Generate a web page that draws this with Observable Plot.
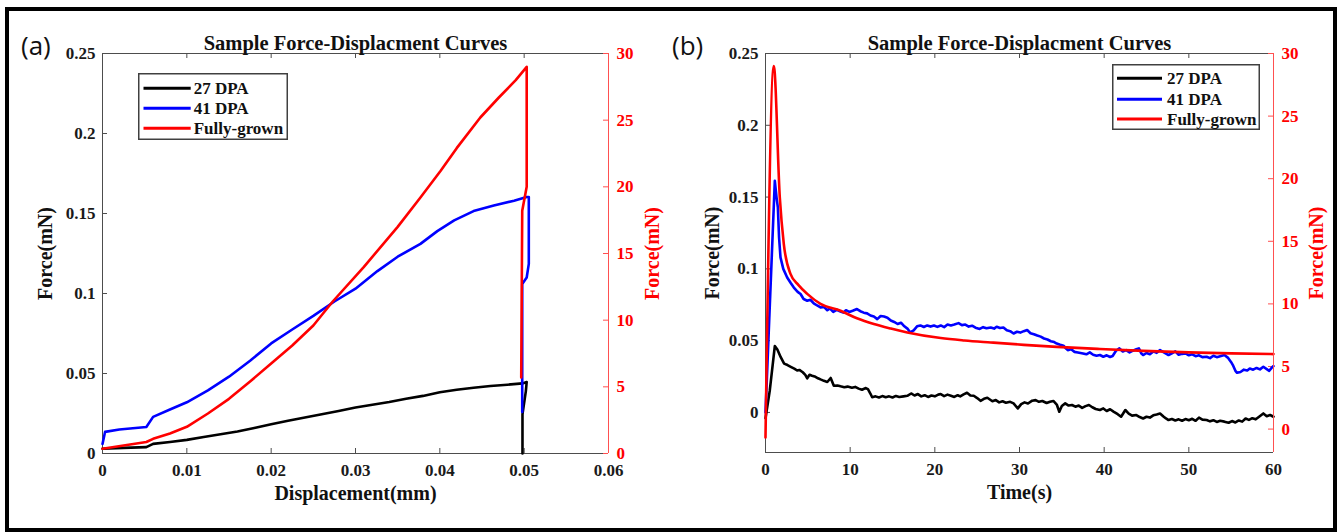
<!DOCTYPE html>
<html>
<head>
<meta charset="utf-8">
<script src="https://cdn.jsdelivr.net/npm/d3@7"></script>
<script src="https://cdn.jsdelivr.net/npm/@observablehq/plot@0.6"></script>
<style>
  html,body{margin:0;padding:0;background:#fff;}
  #fig{position:relative;width:1342px;height:532px;overflow:hidden;background:#fff;}
  .frame{position:absolute;left:5px;top:7px;width:1332px;height:525px;box-sizing:border-box;border:4px solid #000;pointer-events:none;}
  #fig svg text{
    font-family:"Liberation Serif","Times New Roman",Times,serif !important;
    font-weight:bold !important;
    font-variant:normal !important;
  }
  .tag{position:absolute;font-family:"Open Sans","Liberation Sans",sans-serif;font-size:26px;line-height:1;color:#111;}
</style>
</head>
<body>
<div id="fig"></div>
<script>
// ---------- shared ----------
const seriesNames = ["27 DPA", "41 DPA", "Fully-grown"];
const seriesColors = ["#000000", "#0000ff", "#ff0000"];
const chartTitle = "Sample Force-Displacment Curves";
const yLabel = "Force(mN)";
const panelTags = ["(a)", "(b)"];

// ---------- panel (a): force vs displacement ----------
const aXDomain = [0, 0.06];
const aXTicks = [0, 0.01, 0.02, 0.03, 0.04, 0.05, 0.06];
const aXLabels = ["0", "0.01", "0.02", "0.03", "0.04", "0.05", "0.06"];
const aLeftDomain = [0, 0.25];
const aLeftTicks = [0, 0.05, 0.1, 0.15, 0.2, 0.25];
const aLeftLabels = ["0", "0.05", "0.1", "0.15", "0.2", "0.25"];
const aRightDomain = [0, 30];
const aRightTicks = [0, 5, 10, 15, 20, 25, 30];
const aXLabel = "Displacement(mm)";

// [displacement (mm), force (mN, left axis)]
const a27 = [[0,0.003],[0.0025,0.0035],[0.0052,0.004],[0.006,0.006],[0.008,0.0072],[0.01,0.0085],[0.012,0.0103],[0.014,0.012],[0.016,0.0138],[0.018,0.016],[0.02,0.0183],[0.022,0.0205],[0.024,0.0225],[0.026,0.0245],[0.028,0.0266],[0.03,0.0288],[0.032,0.0305],[0.034,0.0322],[0.036,0.0342],[0.038,0.036],[0.04,0.0383],[0.042,0.0398],[0.044,0.0411],[0.046,0.0422],[0.048,0.043],[0.0498,0.0438],[0.0503,0.0447],[0.0502,0.039],[0.0498,0.0245],[0.0498,0]];
const a41 = [[0,0.006],[0.0003,0.0135],[0.002,0.015],[0.0052,0.0166],[0.006,0.0229],[0.008,0.0275],[0.01,0.032],[0.0125,0.0395],[0.015,0.048],[0.0175,0.058],[0.02,0.0688],[0.0225,0.0775],[0.025,0.086],[0.0275,0.095],[0.03,0.103],[0.0326,0.114],[0.035,0.123],[0.0377,0.131],[0.0397,0.139],[0.0417,0.1457],[0.044,0.1515],[0.0464,0.155],[0.0488,0.158],[0.0503,0.1603],[0.05055,0.1603],[0.05055,0.1185],[0.0503,0.11],[0.04977,0.106],[0.04977,0.026]];
// [displacement (mm), force (mN, right axis)]
const aFull = [[0,0.36],[0.0052,0.86],[0.006,1.1],[0.008,1.5],[0.01,2.0],[0.0125,3.0],[0.015,4.1],[0.0175,5.4],[0.02,6.75],[0.0225,8.1],[0.025,9.6],[0.0273,11.4],[0.031,14.0],[0.035,17.0],[0.0377,19.2],[0.0401,21.2],[0.042,22.9],[0.0448,25.2],[0.047,26.7],[0.049,28.0],[0.0503,29.0],[0.0503,20.0],[0.04977,18.2],[0.04965,5.7]];

// ---------- panel (b): force vs time ----------
const bXDomain = [0, 60];
const bXTicks = [0, 10, 20, 30, 40, 50, 60];
const bXLabels = ["0", "10", "20", "30", "40", "50", "60"];
const bLeftDomain = [-0.0279, 0.25];
const bLeftTicks = [0, 0.05, 0.1, 0.15, 0.2, 0.25];
const bLeftLabels = ["0", "0.05", "0.1", "0.15", "0.2", "0.25"];
const bRightDomain = [-1.87, 30];
const bRightTicks = [0, 5, 10, 15, 20, 25, 30];
const bXLabel = "Time(s)";

// [time (s), force (mN, left axis)]
const b27 = [[0,-0.004],[0.5,0.015],[1.1,0.0462],[1.4,0.0438],[1.8,0.0385],[2.2,0.034],[2.6,0.033],[2.98,0.0318],[3.4,0.0305],[3.74,0.0292],[4.0,0.0296],[4.4,0.028],[4.7,0.0262],[4.93,0.0238],[5.2,0.0262],[5.5,0.0255],[5.9,0.0248],[6.2,0.0238],[6.5,0.023],[6.9,0.022],[7.3,0.0212],[7.7,0.024],[8.07,0.0186],[8.5,0.0188],[8.86,0.0182],[9.3,0.0176],[9.7,0.018],[10.2,0.0172],[10.6,0.0178],[11.0,0.0166],[11.4,0.0158],[11.8,0.017],[12.1,0.0162],[12.4,0.013],[12.6,0.0106],[13.0,0.0112],[13.4,0.0104],[13.8,0.0114],[14.2,0.0106],[14.6,0.0112],[15.0,0.0104],[15.4,0.0115],[15.8,0.0108],[16.3,0.0112],[16.75,0.0116],[17.2,0.0132],[17.6,0.0118],[18.0,0.0128],[18.4,0.0112],[18.8,0.012],[19.2,0.0108],[19.6,0.0118],[20.0,0.0112],[20.4,0.0124],[20.7,0.0128],[21.1,0.0114],[21.5,0.0124],[21.9,0.0116],[22.3,0.0108],[22.7,0.012],[23.0,0.0112],[23.4,0.0126],[23.8,0.0137],[24.2,0.0118],[24.6,0.0116],[25.0,0.01],[25.4,0.0081],[25.8,0.0095],[26.2,0.0102],[26.8,0.0078],[27.2,0.0086],[27.6,0.007],[28.0,0.0078],[28.4,0.0068],[28.9,0.0074],[29.3,0.0063],[29.8,0.0028],[30.2,0.0058],[30.6,0.007],[31.0,0.0062],[31.5,0.0082],[31.9,0.0086],[32.3,0.0074],[32.7,0.008],[33.2,0.0066],[33.6,0.0075],[34.0,0.008],[34.4,0.0055],[34.7,0.0005],[35.0,0.0045],[35.4,0.0063],[35.8,0.0048],[36.2,0.0052],[36.6,0.004],[37.0,0.0048],[37.4,0.0032],[37.8,0.0044],[38.2,0.0052],[38.6,0.0036],[39.0,0.0024],[39.5,0.0017],[39.9,0.0028],[40.3,0.001],[40.7,0.0022],[41.1,0.0006],[41.6,-0.0012],[42.0,-0.003],[42.5,0.0017],[42.9,-0.0008],[43.3,-0.0022],[43.8,-0.0018],[44.2,-0.0032],[44.6,-0.0042],[45.0,-0.003],[45.4,-0.0036],[45.8,-0.002],[46.2,-0.0014],[46.6,-0.0007],[47.0,-0.0028],[47.3,-0.0042],[47.6,-0.0053],[48.0,-0.0046],[48.4,-0.0056],[48.8,-0.0048],[49.2,-0.0058],[49.6,-0.0046],[50.0,-0.0054],[50.4,-0.0044],[50.8,-0.0058],[51.2,-0.0036],[51.6,-0.005],[52.1,-0.0053],[52.5,-0.0062],[52.9,-0.0054],[53.3,-0.0066],[53.7,-0.0058],[54.2,-0.0064],[54.7,-0.0072],[55.1,-0.006],[55.5,-0.007],[55.9,-0.0056],[56.3,-0.0064],[56.7,-0.0042],[57.1,-0.0052],[57.5,-0.004],[57.9,-0.0048],[58.3,-0.003],[58.8,-0.0007],[59.2,-0.0026],[59.6,-0.0018],[60,-0.003]];
const b41 = [[0,0.0],[1.1,0.1613],[1.3,0.15],[1.46,0.1428],[1.6,0.122],[1.77,0.108],[2.1,0.1],[2.56,0.094],[3.0,0.09],[3.35,0.087],[3.8,0.084],[4.14,0.0825],[4.5,0.079],[4.93,0.0778],[5.3,0.0785],[5.7,0.076],[6.1,0.0745],[6.5,0.0731],[6.9,0.0735],[7.3,0.0712],[7.6,0.0725],[8.0,0.07],[8.4,0.0715],[8.86,0.0703],[9.2,0.0695],[9.5,0.0712],[9.9,0.07],[10.3,0.0708],[10.8,0.072],[11.2,0.0705],[11.6,0.0695],[12.0,0.069],[12.4,0.0675],[12.8,0.0668],[13.2,0.065],[13.6,0.0672],[14.0,0.0668],[14.4,0.066],[14.8,0.064],[15.2,0.063],[15.6,0.0616],[16.0,0.0625],[16.4,0.06],[16.8,0.0582],[17.1,0.0557],[17.5,0.0572],[17.9,0.06],[18.3,0.0606],[18.7,0.0595],[19.1,0.0606],[19.5,0.0598],[19.9,0.0606],[20.3,0.0596],[20.7,0.0606],[21.1,0.0594],[21.5,0.0612],[21.9,0.0606],[22.3,0.0612],[22.8,0.0622],[23.2,0.0608],[23.6,0.0612],[24.0,0.0598],[24.4,0.0604],[24.8,0.059],[25.3,0.0582],[25.7,0.0594],[26.1,0.0586],[26.6,0.0592],[27.0,0.0584],[27.3,0.0597],[27.7,0.0588],[28.1,0.0592],[28.5,0.0572],[28.9,0.0566],[29.3,0.055],[29.7,0.0562],[30.1,0.0556],[30.5,0.0566],[30.9,0.0574],[31.3,0.0552],[31.7,0.0545],[32.1,0.0536],[32.5,0.0528],[32.9,0.0515],[33.3,0.0508],[33.7,0.0496],[34.1,0.049],[34.4,0.048],[34.8,0.0472],[35.2,0.0465],[35.5,0.0445],[35.7,0.0434],[36.1,0.044],[36.5,0.0422],[36.9,0.0418],[37.5,0.0411],[37.9,0.0405],[38.3,0.0418],[38.7,0.0402],[39.1,0.0395],[39.5,0.04],[39.9,0.0388],[40.3,0.0398],[40.7,0.0386],[41.0,0.0393],[41.4,0.043],[41.8,0.0446],[42.2,0.0425],[42.6,0.0434],[43.0,0.0418],[43.4,0.043],[43.8,0.044],[44.1,0.0446],[44.4,0.041],[44.6,0.04],[45.0,0.0414],[45.4,0.0405],[45.8,0.0425],[46.2,0.0415],[46.6,0.0434],[47.0,0.042],[47.3,0.041],[47.6,0.04],[48.0,0.0412],[48.4,0.0425],[48.8,0.0402],[49.2,0.0408],[49.6,0.0411],[50.0,0.0398],[50.4,0.0405],[50.8,0.0392],[51.2,0.0398],[51.6,0.0385],[52.1,0.0388],[52.5,0.0378],[52.9,0.0395],[53.3,0.0385],[53.7,0.0392],[54.2,0.04],[54.6,0.0382],[55.0,0.035],[55.2,0.033],[55.5,0.029],[55.7,0.0276],[56.1,0.0282],[56.5,0.0298],[56.9,0.0292],[57.2,0.0306],[57.6,0.0298],[58.0,0.031],[58.4,0.03],[58.8,0.0318],[59.2,0.0302],[59.5,0.029],[59.8,0.0312],[60,0.0323]];
// [time (s), force (mN, right axis)]
const bFull = [[0,-0.67],[0.98,29.0],[1.69,18.5],[2.16,14.8],[2.95,12.4],[3.9,11.5],[4.93,10.8],[6.5,10.0],[8.86,9.45],[10.8,8.85],[12.8,8.39],[14.8,8.03],[16.75,7.72],[20.7,7.27],[23.5,7.08],[26.6,6.92],[30.5,6.73],[34.4,6.57],[39.5,6.4],[44.6,6.25],[50,6.13],[55,6.05],[60,5.99]];

// ---------- drawing ----------
const SERIF = '"Liberation Serif","Times New Roman",Times,serif';
const AXIS_GRAY = "#4d4d4d";
const RIGHT_AXIS = "#ff5050";
const RED = "#ff0000";

function lookupFormat(values, labels) {
  return d => {
    const i = values.findIndex(v => Math.abs(v - d) < 1e-9);
    return i >= 0 ? labels[i] : "";
  };
}

function panel(cfg) {
  const {width, height, ml, mr, mt, mb} = cfg;
  const W = width - ml - mr, H = height - mt - mb;
  const [l0, l1] = cfg.leftDomain, [r0, r1] = cfg.rightDomain;
  const toLeft = r => l0 + (r - r0) * (l1 - l0) / (r1 - r0);
  const rightMapped = cfg.rightTicks.map(toLeft);
  const fullMapped = cfg.full.map(([x, r]) => [x, toLeft(r)]);
  const X = d => d[0], Y = d => d[1];
  const tickText = {tickSize: 0, fontSize: 17, fontWeight: "bold", fontFamily: SERIF, label: null};
  return Plot.plot({
    width, height,
    marginLeft: ml, marginRight: mr, marginTop: mt, marginBottom: mb,
    style: {fontFamily: SERIF, background: "transparent", overflow: "visible"},
    x: {domain: cfg.xDomain},
    y: {domain: cfg.leftDomain},
    marks: [
      Plot.ruleY([l0], {stroke: AXIS_GRAY}),
      Plot.ruleY([l1], {stroke: AXIS_GRAY}),
      Plot.ruleX([cfg.xDomain[0]], {stroke: AXIS_GRAY}),
      Plot.ruleX(cfg.xTicks, {x: d => d, insetTop: H - 5, stroke: AXIS_GRAY}),
      Plot.ruleX(cfg.xTicks, {x: d => d, insetBottom: H - 5, stroke: AXIS_GRAY}),
      Plot.ruleY(cfg.leftTicks, {y: d => d, insetRight: W - 5, stroke: AXIS_GRAY}),
      Plot.ruleY(rightMapped, {y: d => d, insetLeft: W - 5, stroke: RIGHT_AXIS}),
      Plot.axisX(cfg.xTicks, {...tickText, anchor: "bottom", tickPadding: 10, fill: "#1a1a1a", tickFormat: lookupFormat(cfg.xTicks, cfg.xLabels)}),
      Plot.axisY(cfg.leftTicks, {...tickText, anchor: "left", tickPadding: 7, fill: "#1a1a1a", tickFormat: lookupFormat(cfg.leftTicks, cfg.leftLabels)}),
      Plot.axisY(rightMapped, {...tickText, anchor: "right", tickPadding: 8, fill: RED, tickFormat: lookupFormat(rightMapped, cfg.rightTicks.map(String))}),
      Plot.line(cfg.s27, {x: X, y: Y, stroke: seriesColors[0], strokeWidth: 2.6}),
      Plot.line(cfg.s41, {x: X, y: Y, stroke: seriesColors[1], strokeWidth: 2.6}),
      Plot.line(fullMapped, {x: X, y: Y, stroke: seriesColors[2], strokeWidth: 2.6, curve: cfg.redCurve}),
      Plot.ruleX([cfg.xDomain[1]], {stroke: RIGHT_AXIS}),
      Plot.text([chartTitle], {text: d => d, frameAnchor: "top", lineAnchor: "bottom", textAnchor: "middle", dy: -4, fontSize: 20.5, fontWeight: "bold", fontFamily: SERIF, fill: "#111"}),
      Plot.text([cfg.xLabel], {text: d => d, frameAnchor: "bottom", lineAnchor: "bottom", textAnchor: "middle", dy: 46, fontSize: 20, fontWeight: "bold", fontFamily: SERIF, fill: "#111"}),
      Plot.text([yLabel], {text: d => d, frameAnchor: "left", textAnchor: "middle", lineAnchor: "middle", rotate: -90, dx: cfg.leftLabelDx, fontSize: 20, fontWeight: "bold", fontFamily: SERIF, fill: "#111"}),
      Plot.text([yLabel], {text: d => d, frameAnchor: "right", textAnchor: "middle", lineAnchor: "middle", rotate: -90, dx: cfg.rightLabelDx, fontSize: 20, fontWeight: "bold", fontFamily: SERIF, fill: RED})
    ]
  });
}

function addLegend(fig, box) {
  const svg = d3.create("svg")
    .attr("width", box.w).attr("height", box.h)
    .style("position", "absolute").style("left", box.left + "px").style("top", box.top + "px");
  svg.append("rect").attr("x", 0.75).attr("y", 0.75)
    .attr("width", box.w - 1.5).attr("height", box.h - 1.5)
    .attr("fill", "#fff").attr("stroke", "#404040").attr("stroke-width", 1.5);
  seriesNames.forEach((name, i) => {
    const y = box.rows[i];
    svg.append("line").attr("x1", box.lx1).attr("x2", box.lx2).attr("y1", y).attr("y2", y)
      .attr("stroke", seriesColors[i]).attr("stroke-width", 3);
    svg.append("text").attr("x", box.tx).attr("y", y).attr("dy", "0.35em")
      .attr("font-size", 17).attr("fill", "#111").text(name);
  });
  fig.appendChild(svg.node());
}

function addTag(fig, text, left, top) {
  const d = document.createElement("div");
  d.className = "tag";
  d.textContent = text;
  d.style.left = left + "px";
  d.style.top = top + "px";
  fig.appendChild(d);
}

const fig = document.getElementById("fig");

const pa = panel({
  width: 671, height: 532, ml: 102, mr: 63, mt: 53, mb: 79,
  xDomain: aXDomain, xTicks: aXTicks, xLabels: aXLabels,
  leftDomain: aLeftDomain, leftTicks: aLeftTicks, leftLabels: aLeftLabels,
  rightDomain: aRightDomain, rightTicks: aRightTicks,
  s27: a27, s41: a41, full: aFull, redCurve: "linear",
  xLabel: aXLabel, leftLabelDx: -57, rightLabelDx: 44
});
pa.style.position = "absolute"; pa.style.left = "0px"; pa.style.top = "0px";
fig.appendChild(pa);

const pb = panel({
  width: 671, height: 532, ml: 94, mr: 69, mt: 53, mb: 80,
  xDomain: bXDomain, xTicks: bXTicks, xLabels: bXLabels,
  leftDomain: bLeftDomain, leftTicks: bLeftTicks, leftLabels: bLeftLabels,
  rightDomain: bRightDomain, rightTicks: bRightTicks,
  s27: b27, s41: b41, full: bFull, redCurve: "monotone-x",
  xLabel: bXLabel, leftLabelDx: -53, rightLabelDx: 43
});
pb.style.position = "absolute"; pb.style.left = "671px"; pb.style.top = "0px";
fig.appendChild(pb);

addLegend(fig, {left: 138, top: 73, w: 150, h: 67, rows: [15.3, 35.3, 55.3], lx1: 5.5, lx2: 52.7, tx: 55.7});
addLegend(fig, {left: 1112, top: 64, w: 148, h: 66, rows: [14.3, 35.3, 55], lx1: 5, lx2: 50, tx: 55});

addTag(fig, panelTags[0], 21, 32);
addTag(fig, panelTags[1], 672, 32);

const frame = document.createElement("div");
frame.className = "frame";
fig.appendChild(frame);
</script>
</body>
</html>
